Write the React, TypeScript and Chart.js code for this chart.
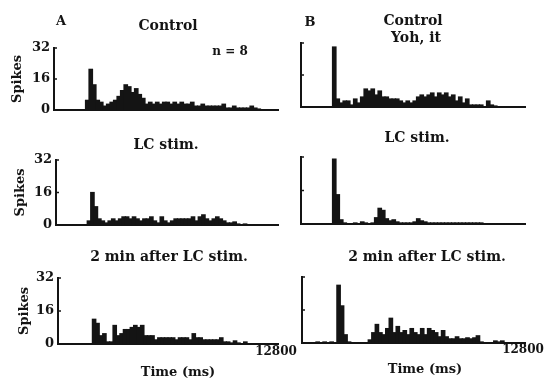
import { useEffect, useRef } from 'react';
import { Chart, registerables } from 'chart.js';

Chart.register(...registerables);

// ---- data (spike counts per 200 ms bin, 0 .. 12800 ms) ----
const BIN_MS = 200;
const X_MAX_MS = 12800;
const yTickValues = [0, 16, 32];
const xEndTickValues = [12800];

const controlA = [
  0, 0, 0, 0, 0, 0, 0, 0, 0, 5, 21, 13, 5, 4, 2, 3,
  4, 5, 7, 10, 13, 12, 9, 11, 8, 6, 3, 4, 3, 4, 3, 4,
  4, 3, 4, 3, 4, 3, 3, 4, 2, 2, 3, 2, 2, 2, 2, 2,
  3, 1, 1, 2, 1, 1, 1, 1, 2, 1, 0.5, 0, 0, 0, 0, 0,
];
const controlB = [
  0, 0, 0, 0, 0, 0, 0, 0, 0, 30, 4, 2, 3, 3, 1, 4,
  2, 5, 9, 8, 9, 6, 8, 5, 5, 4, 4, 4, 3, 2, 3, 2,
  3, 5, 6, 5, 6, 7, 5, 7, 6, 7, 5, 6, 3, 5, 2, 4,
  1, 1, 1, 1, 0, 3, 1, 0.5, 0, 0, 0, 0, 0, 0, 0, 0,
];
const lcStimA = [
  0, 0, 0, 0, 0, 0, 0, 0, 0, 2, 16, 9, 3, 2, 1, 2,
  3, 2, 3, 4, 4, 3, 4, 3, 2, 3, 3, 4, 2, 1, 4, 2,
  1, 2, 3, 3, 3, 3, 3, 4, 2, 4, 5, 3, 2, 3, 4, 3,
  2, 1, 1, 1.5, 0.5, 0, 0.5, 0, 0, 0, 0, 0, 0, 0, 0, 0,
];
const lcStimB = [
  0, 0, 0, 0, 0, 0, 0, 0, 0, 31, 14, 2, 0.5, 0, 0, 0.5,
  0, 1, 0.5, 0, 0.5, 3, 7.5, 6.5, 2.5, 1.5, 2, 1, 0.5, 0.5, 0.5, 0.5,
  1, 2.5, 1.5, 1, 0.5, 0.5, 0.5, 0.5, 0.5, 0.5, 0.5, 0.5, 0.5, 0.5, 0.5, 0.5,
  0.5, 0.5, 0.5, 0.5, 0, 0, 0, 0, 0, 0, 0, 0, 0, 0, 0, 0,
];
const afterA = [
  0, 0, 0, 0, 0, 0, 0, 0, 0, 0, 12, 10, 4, 5, 1, 1,
  9, 4, 5, 7, 7, 8, 9, 8, 9, 4, 4, 4, 2, 3, 3, 3,
  3, 3, 2, 3, 3, 3, 2, 5, 3, 3, 2, 2, 2, 2, 2, 3,
  1, 1, 0.5, 1.5, 0.5, 0, 1, 0, 0, 0, 0, 0, 0, 0, 0, 0,
];
const afterB = [
  0, 0, 0, 0, 0.5, 0, 0.5, 0, 0.5, 0, 28, 18, 4, 0.5, 0, 0,
  0, 0, 0, 1.5, 5, 9, 5, 4, 7, 12, 5, 8, 5, 6, 4, 7,
  5, 4, 7, 4, 7, 6, 5, 3, 6, 3, 2, 2, 3, 2, 2, 2.5,
  2, 2.5, 3.5, 0.5, 0, 0, 0, 1, 0.5, 1, 0, 0, 0, 0, 0, 0,
];

const binCentersMs = controlA.map((_, i) => i * BIN_MS + BIN_MS / 2);

// ---- styling / layout ----
const INK = '#141414';
const FONT = '"DejaVu Serif", "Liberation Serif", serif';

type TextItem = { text: string; x: number; y: number; size: number };
type Panel = {
  values: number[];
  left: number; right: number; top: number; bottom: number;
  showY: boolean; showX: boolean; spikesX?: number; xLabelY?: number;
  texts: TextItem[];
};

const panels: Panel[] = [
  {
    values: controlA, left: 54, right: 278, top: 48, bottom: 110, showY: true, showX: false, spikesX: 18,
    texts: [
      { text: 'A', x: 61, y: 22, size: 13 },
      { text: 'Control', x: 168, y: 26, size: 14 },
      { text: 'n = 8', x: 230, y: 52, size: 12 },
    ],
  },
  {
    values: controlB, left: 301, right: 525, top: 43, bottom: 107, showY: false, showX: false,
    texts: [
      { text: 'B', x: 310, y: 23, size: 13 },
      { text: 'Control', x: 413, y: 21, size: 14 },
      { text: 'Yoh, it', x: 416, y: 38, size: 14 },
    ],
  },
  {
    values: lcStimA, left: 56, right: 278, top: 160, bottom: 225, showY: true, showX: false, spikesX: 21,
    texts: [{ text: 'LC stim.', x: 166, y: 145, size: 14 }],
  },
  {
    values: lcStimB, left: 301, right: 525, top: 157, bottom: 224, showY: false, showX: false,
    texts: [{ text: 'LC stim.', x: 417, y: 138, size: 14 }],
  },
  {
    values: afterA, left: 58, right: 278, top: 278, bottom: 344, showY: true, showX: true, spikesX: 25, xLabelY: 352,
    texts: [
      { text: '2 min after LC stim.', x: 169, y: 257, size: 14 },
      { text: 'Time (ms)', x: 178, y: 373, size: 13 },
    ],
  },
  {
    values: afterB, left: 302, right: 525, top: 277, bottom: 343, showY: false, showX: true, xLabelY: 350,
    texts: [
      { text: '2 min after LC stim.', x: 427, y: 257, size: 14 },
      { text: 'Time (ms)', x: 425, y: 370, size: 13 },
    ],
  },
];

const W = 550;
const H = 380;

const panelTextPlugin = {
  id: 'panelText',
  afterDraw(chart: any, _args: any, opts: any) {
    const ctx = chart.ctx as CanvasRenderingContext2D;
    ctx.save();
    ctx.fillStyle = INK;
    ctx.textAlign = 'center';
    ctx.textBaseline = 'middle';
    for (const t of (opts.items || []) as TextItem[]) {
      ctx.font = `bold ${t.size}px ${FONT}`;
      ctx.fillText(t.text, t.x, t.y);
    }
    // x-axis end tick labels, placed through the x scale
    if (opts.showX) {
      const xs = chart.scales.x;
      ctx.font = `bold 12px ${FONT}`;
      for (const v of xEndTickValues) {
        ctx.fillText(String(v), xs.getPixelForValue(v) - 2, opts.xLabelY);
      }
    }
    // short inward tick marks on the y axis
    const ys = chart.scales.y;
    const left = chart.chartArea.left;
    ctx.strokeStyle = INK;
    ctx.lineWidth = 1.5;
    for (const v of [16, 32]) {
      const py = ys.getPixelForValue(v);
      ctx.beginPath();
      ctx.moveTo(left, py);
      ctx.lineTo(left + 3, py);
      ctx.stroke();
    }
    ctx.restore();
  },
};

function PanelChart({ panel }: { panel: Panel }) {
  const ref = useRef<HTMLCanvasElement | null>(null);
  useEffect(() => {
    if (!ref.current) return;
    const titleSize = 13;
    const lineH = titleSize * 1.2;
    const padLeft = panel.showY ? Math.max(0, (panel.spikesX as number) - lineH / 2 - 4) : panel.left - 2;
    const yWidth = panel.left - padLeft;
    const chart = new Chart(ref.current, {
      type: 'bar',
      data: {
        datasets: [
          {
            data: panel.values.map((v, i) => ({ x: binCentersMs[i], y: v })),
            backgroundColor: INK,
            borderWidth: 0,
            barPercentage: 1,
            categoryPercentage: 1,
            inflateAmount: 0.6,
          } as any,
        ],
      },
      options: {
        animation: false,
        responsive: false,
        maintainAspectRatio: false,
        events: [],
        layout: {
          padding: { left: padLeft, right: W - panel.right, top: panel.top, bottom: H - panel.bottom },
        },
        plugins: {
          legend: { display: false },
          tooltip: { enabled: false },
          title: { display: false },
          panelText: { items: panel.texts, showX: panel.showX, xLabelY: panel.xLabelY },
        } as any,
        scales: {
          x: {
            type: 'linear',
            min: 0,
            max: X_MAX_MS,
            offset: false,
            grid: { display: false, drawTicks: false },
            border: { display: true, color: INK, width: 2 },
            ticks: { display: false },
            afterFit: (s: any) => {
              s.height = 0;
            },
          },
          y: {
            min: 0,
            max: 32,
            grid: { display: false, drawTicks: false },
            border: { display: true, color: INK, width: 2 },
            ticks: {
              display: panel.showY,
              color: INK,
              font: { family: FONT, size: 13, weight: 'bold' },
              padding: 4,
              autoSkip: false,
            },
            afterBuildTicks: (s: any) => {
              s.ticks = yTickValues.map((v) => ({ value: v }));
            },
            afterFit: (s: any) => {
              s.width = yWidth;
            },
            title: {
              display: panel.showY,
              text: 'Spikes',
              color: INK,
              font: { family: FONT, size: titleSize, weight: 'bold' },
              padding: { top: 4, bottom: 4 },
            },
          },
        },
      },
      plugins: [panelTextPlugin as any],
    });
    return () => chart.destroy();
  }, [panel]);
  return (
    <canvas
      ref={ref}
      width={W}
      height={H}
      style={{ position: 'absolute', left: 0, top: 0, width: W, height: H }}
    />
  );
}

export default function App() {
  return (
    <div style={{ position: 'fixed', left: 0, top: 0, width: W, height: H, background: '#ffffff', overflow: 'hidden' }}>
      {panels.map((p, i) => (
        <PanelChart key={i} panel={p} />
      ))}
    </div>
  );
}
